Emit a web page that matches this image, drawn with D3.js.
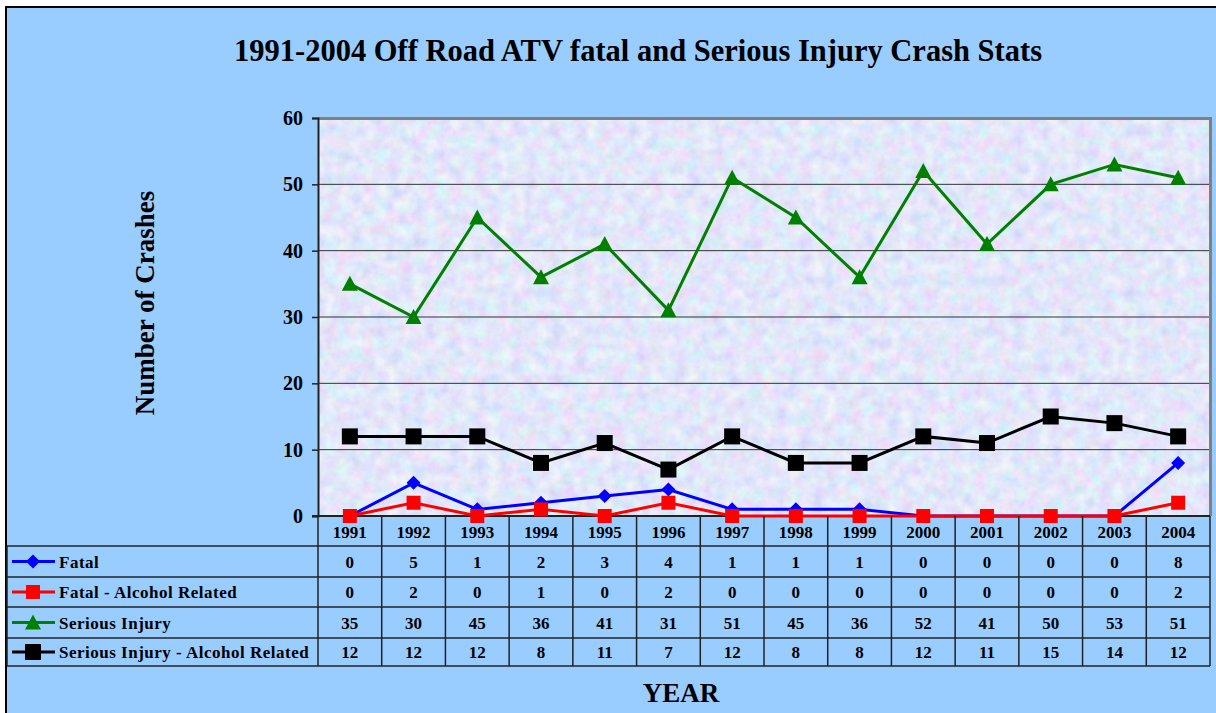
<!DOCTYPE html>
<html>
<head>
<meta charset="utf-8">
<script src="https://cdn.jsdelivr.net/npm/d3@7"></script>
<style>
  body { margin: 0; background: #fff; }
  svg text { font-family: "Liberation Serif", "Times New Roman", serif; font-weight: bold; fill: #000; }
</style>
</head>
<body>
<div id="chart"></div>
<script>
// chart data
var years = ["1991", "1992", "1993", "1994", "1995", "1996", "1997", "1998", "1999", "2000", "2001", "2002", "2003", "2004"];
var fatal = [0, 5, 1, 2, 3, 4, 1, 1, 1, 0, 0, 0, 0, 8];
var fatalAlcohol = [0, 2, 0, 1, 0, 2, 0, 0, 0, 0, 0, 0, 0, 2];
var serious = [35, 30, 45, 36, 41, 31, 51, 45, 36, 52, 41, 50, 53, 51];
var seriousAlcohol = [12, 12, 12, 8, 11, 7, 12, 8, 8, 12, 11, 15, 14, 12];
var yTicks = [0, 10, 20, 30, 40, 50, 60];

var seriesList = [
    { name: "Fatal", values: fatal, color: "#0000FF", shape: "diamond" },
    { name: "Fatal - Alcohol Related", values: fatalAlcohol, color: "#FF0000", shape: "square" },
    { name: "Serious Injury", values: serious, color: "#008000", shape: "triangle" },
    { name: "Serious Injury - Alcohol Related", values: seriousAlcohol, color: "#000000", shape: "bigsquare" }
];

var W = 1216, H = 713;
var plotLeft = 318, plotRight = 1210, plotTop = 118, plotBottom = 516;
var tableLeft = 7;
var rowEdges = [546, 577, 607, 638, 666];

var svg = d3.select("#chart").append("svg")
    .attr("width", W)
    .attr("height", H);

// pastel noise for the plot background
var defs = svg.append("defs");
var filt = defs.append("filter").attr("id", "tex")
    .attr("x", 0).attr("y", 0).attr("width", 1).attr("height", 1);
filt.append("feTurbulence")
    .attr("type", "fractalNoise")
    .attr("baseFrequency", 0.08)
    .attr("numOctaves", 3)
    .attr("seed", 7);
filt.append("feColorMatrix")
    .attr("type", "matrix")
    .attr("values", "0.45 0 0 0 0.54  0 0.4 0 0 0.6  0 0 0.2 0 0.85  0 0 0 0 1");

// outer chart area
svg.append("rect")
    .attr("x", 6).attr("y", 7)
    .attr("width", W + 10).attr("height", H + 10)
    .attr("fill", "#99CCFF")
    .attr("stroke", "#000")
    .attr("stroke-width", 2);

// title
svg.append("text")
    .attr("x", 638).attr("y", 61)
    .attr("text-anchor", "middle")
    .style("font-size", "30.5px")
    .text("1991-2004 Off Road ATV fatal and Serious Injury Crash Stats");

var x = d3.scaleBand().domain(years).range([plotLeft, plotRight]);
var y = d3.scaleLinear().domain([0, 60]).range([plotBottom, plotTop]);
var cx = function(i) { return x(years[i]) + x.bandwidth() / 2; };

// plot background (textured)
svg.append("rect")
    .attr("x", plotLeft).attr("y", plotTop)
    .attr("width", plotRight - plotLeft).attr("height", plotBottom - plotTop)
    .attr("filter", "url(#tex)");

// gridlines
svg.append("g").selectAll("line")
    .data(yTicks.filter(function(d) { return d > 0 && d < 60; }))
    .enter().append("line")
    .attr("x1", plotLeft).attr("x2", plotRight)
    .attr("y1", function(d) { return y(d); })
    .attr("y2", function(d) { return y(d); })
    .attr("stroke", "#333")
    .attr("stroke-width", 1);

// plot border top / right (gray)
svg.append("path")
    .attr("d", "M" + plotLeft + "," + (plotTop + 0.5) + "H" + (plotRight + 0.5) + "V" + plotBottom)
    .attr("fill", "none")
    .attr("stroke", "#808080")
    .attr("stroke-width", 3);

// y axis
var yAxis = svg.append("g")
    .attr("transform", "translate(" + plotLeft + ",0)")
    .call(d3.axisLeft(y).tickValues(yTicks).tickSize(6).tickPadding(9));
yAxis.select(".domain").attr("stroke", "#222").attr("stroke-width", 2);
yAxis.selectAll(".tick line").attr("stroke", "#222").attr("stroke-width", 1.5);
yAxis.selectAll(".tick text")
    .style("font-size", "20px")
    .style("font-family", "'Liberation Serif', serif")
    .style("font-weight", "bold")
    .attr("fill", "#000");

// x baseline
svg.append("line")
    .attr("x1", plotLeft - 6).attr("x2", plotRight)
    .attr("y1", plotBottom).attr("y2", plotBottom)
    .attr("stroke", "#222").attr("stroke-width", 2);

// y axis title
svg.append("text")
    .attr("transform", "translate(154,303) rotate(-90)")
    .attr("text-anchor", "middle")
    .style("font-size", "27px")
    .text("Number of Crashes");

// marker drawing
function marker(sel, shape, color) {
    if (shape === "diamond") {
        sel.append("path").attr("d", "M0,-7L7,0L0,7L-7,0Z").attr("fill", color);
    } else if (shape === "square") {
        sel.append("rect").attr("x", -7).attr("y", -7).attr("width", 14).attr("height", 14).attr("fill", color);
    } else if (shape === "triangle") {
        sel.append("path").attr("d", "M0,-8L8,7L-8,7Z").attr("fill", color);
    } else {
        sel.append("rect").attr("x", -8).attr("y", -8).attr("width", 16).attr("height", 16).attr("fill", color);
    }
}

var line = d3.line()
    .x(function(d, i) { return cx(i); })
    .y(function(d) { return y(d); });

// draw series, back to front so fatal sits on top like the original
var drawOrder = [3, 2, 0, 1];
drawOrder.forEach(function(k) {
    var s = seriesList[k];
    var g = svg.append("g").attr("class", "series");
    g.append("path")
        .datum(s.values)
        .attr("d", line)
        .attr("fill", "none")
        .attr("stroke", s.color)
        .attr("stroke-width", 3);
    g.selectAll(".pt")
        .data(s.values)
        .enter().append("g")
        .attr("class", "pt")
        .attr("transform", function(d, i) { return "translate(" + cx(i) + "," + y(d) + ")"; })
        .each(function() { marker(d3.select(this), s.shape, s.color); });
});

// data table
var table = svg.append("g").attr("class", "table");
var lineColor = "#222";

// column dividers
table.selectAll(".hdiv")
    .data(d3.range(years.length + 1))
    .enter().append("line")
    .attr("x1", function(i) { return plotLeft + i * x.bandwidth(); })
    .attr("x2", function(i) { return plotLeft + i * x.bandwidth(); })
    .attr("y1", plotBottom).attr("y2", rowEdges[rowEdges.length - 1])
    .attr("stroke", lineColor).attr("stroke-width", 1.5);

// horizontal rules
table.selectAll(".hrule")
    .data(rowEdges)
    .enter().append("line")
    .attr("x1", tableLeft).attr("x2", plotRight)
    .attr("y1", function(d) { return d; }).attr("y2", function(d) { return d; })
    .attr("stroke", lineColor).attr("stroke-width", 1.5);

// left border of table body
table.append("line")
    .attr("x1", tableLeft).attr("x2", tableLeft)
    .attr("y1", rowEdges[0]).attr("y2", rowEdges[rowEdges.length - 1])
    .attr("stroke", lineColor).attr("stroke-width", 1.5);

// year labels
table.selectAll(".yr")
    .data(years)
    .enter().append("text")
    .attr("x", function(d, i) { return cx(i); })
    .attr("y", plotBottom + 22)
    .attr("text-anchor", "middle")
    .style("font-size", "17px")
    .text(function(d) { return d; });

// rows
seriesList.forEach(function(s, r) {
    var mid = (rowEdges[r] + rowEdges[r + 1]) / 2;
    var leg = table.append("g");
    leg.append("line")
        .attr("x1", 12).attr("x2", 55)
        .attr("y1", mid).attr("y2", mid)
        .attr("stroke", s.color).attr("stroke-width", 3);
    var m = leg.append("g").attr("transform", "translate(33," + mid + ")");
    marker(m, s.shape, s.color);
    leg.append("text")
        .attr("x", 59).attr("y", mid + 6)
        .style("font-size", "17px")
        .style("letter-spacing", "0.5px")
        .text(s.name);

    table.selectAll(".v" + r)
        .data(s.values)
        .enter().append("text")
        .attr("x", function(d, i) { return cx(i); })
        .attr("y", mid + 6)
        .attr("text-anchor", "middle")
        .style("font-size", "17px")
        .text(function(d) { return d; });
});

// x axis title
svg.append("text")
    .attr("x", 681).attr("y", 702)
    .attr("text-anchor", "middle")
    .style("font-size", "27px")
    .text("YEAR");
</script>
</body>
</html>
